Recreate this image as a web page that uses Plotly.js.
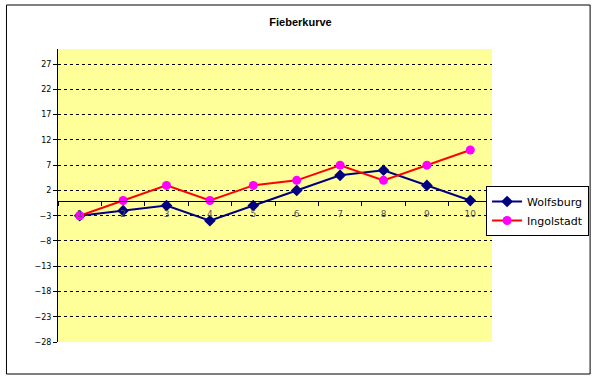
<!DOCTYPE html>
<html>
<head>
<meta charset="utf-8">
<script src="https://cdn.plot.ly/plotly-3.0.1.min.js"></script>
<style>html,body{margin:0;padding:0;background:#fff;}#chart{width:601px;height:379px;}</style>
</head>
<body>
<div id="chart"></div>
<script>
const categories = ["1","2","3","4","5","6","7","8","9","10"];
const wolfsburg = [-3, -2, -1, -4, -1, 2, 5, 6, 3, 0];
const ingolstadt = [-3, 0, 3, 0, 3, 4, 7, 4, 7, 10];
const seriesNames = ["Wolfsburg", "Ingolstadt"];
const yMin = -28, yMax = 30;

const traces = [
  {x: categories, y: wolfsburg, name: seriesNames[0], type: 'scatter', mode: 'lines+markers',
   line: {color: '#000080', width: 2}, marker: {symbol: 'diamond', size: 9, color: '#000080'}},
  {x: categories, y: ingolstadt, name: seriesNames[1], type: 'scatter', mode: 'lines+markers',
   line: {color: '#ff0000', width: 2}, marker: {symbol: 'circle', size: 9, color: '#ff00ff'}}
];

const L = 58, R = 105, T = 49, B = 37, W = 601, H = 379;
const pw = W - L - R, ph = H - T - B;
const layout = {
  width: W, height: H,
  margin: {l: L, r: R, t: T, b: B, pad: 0},
  paper_bgcolor: '#ffffff',
  plot_bgcolor: '#ffff99',
  title: {text: '<b>Fieberkurve</b>', font: {family: 'Liberation Sans, Arial', size: 11, color: '#000'}, x: 0.5, xref: 'container', xanchor: 'center', y: 1 - 22 / H, yanchor: 'middle'},
  showlegend: true,
  legend: {x: (490 - L) / pw, y: (H - B - 186) / ph, xanchor: 'left', yanchor: 'top',
           bordercolor: '#000', borderwidth: 1, bgcolor: '#fff',
           font: {family: 'DejaVu Sans, Verdana', size: 11, color: '#000'},
           tracegroupgap: 0, itemwidth: 30},
  xaxis: {type: 'category', anchor: 'free', position: (0 - yMin) / (yMax - yMin),
          showline: true, linecolor: '#000', linewidth: 1,
          ticks: 'outside', ticklen: 4, tickcolor: '#000', tickson: 'boundaries',
          ticklabelstandoff: 5,
          showgrid: false, zeroline: false, range: [-0.5, 9.5],
          tickfont: {family: 'DejaVu Sans, Verdana', size: 9, color: '#555'}, fixedrange: true},
  yaxis: {range: [yMin, yMax], tick0: yMin, dtick: 5, showline: true, linecolor: '#000', linewidth: 1,
          ticks: 'outside', ticklen: 4, tickcolor: '#000',
          showgrid: true, gridcolor: '#000', gridwidth: 1, griddash: '3px,3px',
          zeroline: false,
          tickfont: {family: 'DejaVu Sans, Verdana', size: 8, color: '#000'}, fixedrange: true},
  shapes: [{type: 'rect', xref: 'paper', yref: 'paper',
            x0: (6 - L) / pw, x1: (595 - L) / pw, y0: (H - B - 374) / ph, y1: (H - B - 5) / ph,
            line: {color: '#000', width: 1}, fillcolor: 'rgba(0,0,0,0)', layer: 'below'}]
};

Plotly.newPlot('chart', traces, layout, {displayModeBar: false, staticPlot: true});
</script>
</body>
</html>
